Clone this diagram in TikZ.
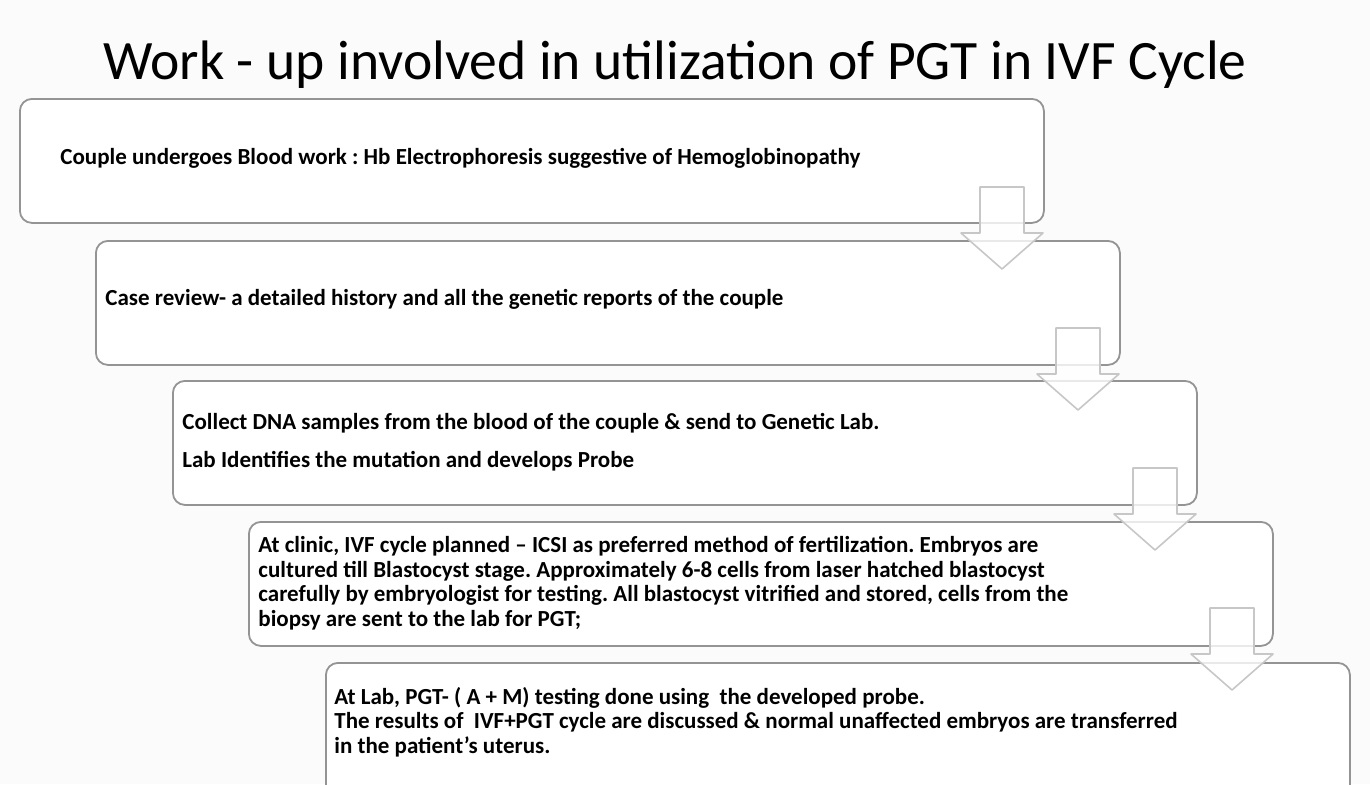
\documentclass[tikz,border=0pt]{standalone}
\usepackage{fontspec}
\setmainfont{Carlito}
\usepackage{tikz}
\usetikzlibrary{positioning}
\frenchspacing

\begin{document}
\begin{tikzpicture}[x=0.5pt,y=-0.5pt,line cap=round,line join=round]
		% Hintergrund
		\clip (0,0) rectangle (1370,784);
		\fill[black!1.5] (0,0) rectangle (1370,784);

		\tikzset{
			stepbox/.style={draw=black!42, line width=0.9pt, fill=white, rounded corners=6pt,
				minimum width=512pt, minimum height=62pt, anchor=north west, inner sep=0pt},
			steptext/.style={anchor=west, align=left, inner sep=0pt, font=\fontsize{11.5}{12.25}\selectfont\bfseries},
			blockarrow/.style={draw=black!22, line width=0.8pt, fill=white, fill opacity=0.8}
		}

		% Titel
		\node[font=\fontsize{27.8}{32}\selectfont] (title) at (675,65) {Work - up involved in utilization of PGT in IVF Cycle};

		% Kaesten
		\node[stepbox] (box1) at (19,98) {};
		\node[stepbox] (box2) at (95,240) {};
		\node[stepbox] (box3) at (172,380) {};
		\node[stepbox] (box4) at (248,521) {};
		\node[stepbox, minimum height=80pt] (box5) at (325,662) {};

		% Texte
		\node[steptext] (text1) at (60,158) {Couple undergoes Blood work : Hb Electrophoresis suggestive of Hemoglobinopathy};
		\node[steptext] (text2) at (105,299) {Case review- a detailed history and all the genetic reports of the couple};
		\node[steptext] (text3a) at (182,423) {Collect DNA samples from the blood of the couple \& send to Genetic Lab.};
		\node[steptext] (text3b) at (182,461) {Lab Identifies the mutation and develops Probe};
		\node[steptext] (text4) at (258,583) {At clinic, IVF cycle planned -- ICSI as preferred method of fertilization. Embryos are\\
			cultured till Blastocyst stage. Approximately 6-8 cells from laser hatched blastocyst\\
			carefully by embryologist for testing. All blastocyst vitrified and stored, cells from the\\
			biopsy are sent to the lab for PGT;};
		\node[steptext] (text5) at (334,722) {At Lab, PGT- ( A + M) testing done using\ \ the developed probe.\\
			The results of\ \ IVF+PGT cycle are discussed \& normal unaffected embryos are transferred\\
			in the patient’s uterus.};

		% Pfeile
		\foreach \tx/\ty in {1002/269, 1078/410, 1155/550, 1232/690}
			\draw[blockarrow] (\tx-22,\ty-82) -- (\tx+22,\ty-82) -- (\tx+22,\ty-36) -- (\tx+41,\ty-36)
				-- (\tx,\ty) -- (\tx-41,\ty-36) -- (\tx-22,\ty-36) -- cycle;
	\end{tikzpicture}
\end{document}
